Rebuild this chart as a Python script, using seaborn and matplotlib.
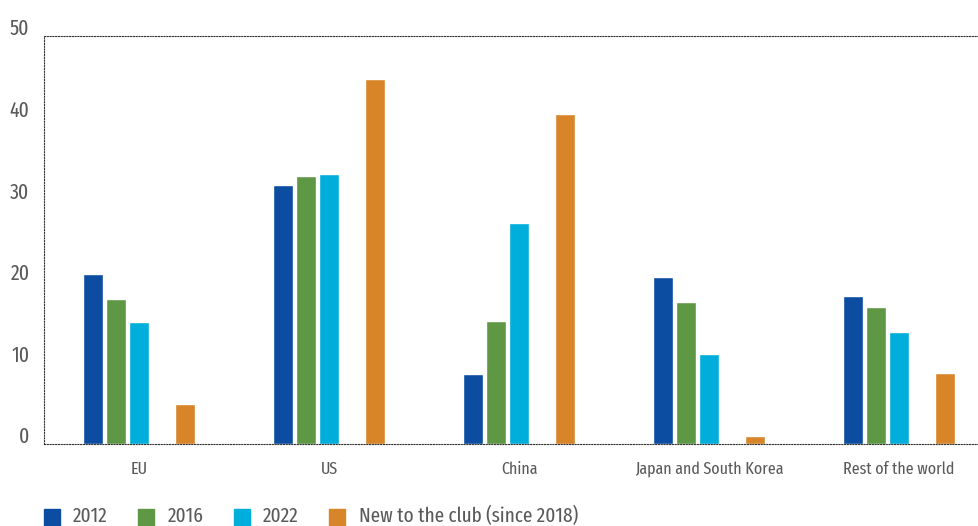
import matplotlib
matplotlib.use("Agg")
import matplotlib.pyplot as plt
import matplotlib.transforms as mtransforms
from matplotlib.patches import Rectangle
import pandas as pd
import seaborn as sns

# Regions and series values (percent)
regions = ["EU", "US", "China", "Japan and South Korea", "Rest of the world"]
series_names = ["2012", "2016", "2022", "New to the club (since 2018)"]
vals_2012 = [20.8, 31.7, 8.6, 20.5, 18.1]
vals_2016 = [17.8, 32.8, 15.1, 17.4, 16.8]
vals_2022 = [15.0, 33.1, 27.1, 11.0, 13.7]
vals_new = [4.9, 44.7, 40.4, 1.0, 8.7]
y_ticks = [0, 10, 20, 30, 40, 50]

colors = {
    "2012": "#0C4DA2",
    "2016": "#5E9844",
    "2022": "#00AEDB",
    " ": "#FFFFFF",
    "New to the club (since 2018)": "#D8852A",
}
# an empty slot separates the 2022 bar from the newcomers' bar
hue_order = ["2012", "2016", "2022", " ", "New to the club (since 2018)"]

rows = []
for name, vals in zip(series_names, [vals_2012, vals_2016, vals_2022, vals_new]):
    for reg, v in zip(regions, vals):
        rows.append({"region": reg, "series": name, "value": v})
df = pd.DataFrame(rows)

sns.set_theme(style="white")
plt.rcParams["font.family"] = ["Fira Sans Extra Condensed", "DejaVu Sans"]
plt.rcParams["font.weight"] = "normal"
text_color = "#5a5a5a"

fig = plt.figure(figsize=(9.79, 5.26), dpi=100)
ax = fig.add_axes([44 / 979, 1 - 444 / 526, 1 - 44 / 979, (444 - 36) / 526])

sns.barplot(
    data=df, x="region", y="value", hue="series", hue_order=hue_order,
    order=regions, palette=colors, width=0.605, gap=0.15,
    saturation=1, legend=False, ax=ax,
)

ax.set_xlim(-0.5, 4.42)
ax.set_ylim(0, 50)
ax.set_yticks(y_ticks)
ax.set_xlabel("")
ax.set_ylabel("")

for side in ["top", "left", "bottom"]:
    ax.spines[side].set_visible(True)
    ax.spines[side].set_color("#333333")
    ax.spines[side].set_linestyle((0, (1, 1.5)))
    ax.spines[side].set_linewidth(0.8)
ax.spines["right"].set_visible(False)

ax.tick_params(axis="y", length=0, pad=10.5, labelsize=15.5, labelcolor=text_color)
ax.tick_params(axis="x", length=0, pad=12.5, labelsize=12.5, labelcolor=text_color)

# lift the value labels slightly above their grid level
lift = mtransforms.ScaledTranslation(0, 9 / 100, fig.dpi_scale_trans)
for lab in ax.get_yticklabels():
    lab.set_transform(lab.get_transform() + lift)

# legend row along the bottom edge
legend_items = [
    ("2012", 44, 73),
    ("2016", 138, 168),
    ("2022", 234, 263),
    ("New to the club (since 2018)", 329, 359),
]
for name, sx, tx in legend_items:
    fig.patches.append(Rectangle((sx / 979, 0), 16 / 979, 17 / 526,
                                 transform=fig.transFigure, color=colors[name]))
    fig.text(tx / 979, 1 - 516 / 526, name, fontsize=15, color=text_color,
             va="center", ha="left")

fig.savefig("out.png", dpi=100)
